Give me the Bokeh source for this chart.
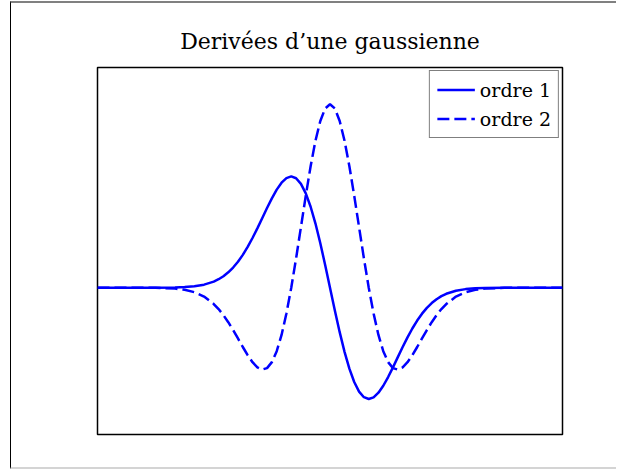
from bokeh.plotting import figure
from bokeh.models import Legend, LegendItem, ColumnDataSource
from bokeh.embed import file_html
from bokeh.resources import INLINE

# Sample positions (x) and the two derivative curves read at those positions
x = [-6.0, -5.0, -4.5, -4.0, -3.75, -3.5, -3.25, -3.0, -2.875, -2.75, -2.625, -2.5,
     -2.375, -2.25, -2.125, -2.0, -1.875, -1.75, -1.625, -1.5, -1.375, -1.25, -1.125,
     -1.0, -0.875, -0.75, -0.625, -0.5, -0.375, -0.25, -0.125, 0.0, 0.125, 0.25, 0.375,
     0.5, 0.625, 0.75, 0.875, 1.0, 1.125, 1.25, 1.375, 1.5, 1.625, 1.75, 1.875, 2.0,
     2.125, 2.25, 2.375, 2.5, 2.625, 2.75, 2.875, 3.0, 3.25, 3.5, 3.75, 4.0, 4.5, 5.0, 6.0]

ordre1 = [0.0, 0.0, 0.0002, 0.0013, 0.0033, 0.0077, 0.0165, 0.0333, 0.0461, 0.0627,
          0.0837, 0.1098, 0.1415, 0.1790, 0.2222, 0.2707, 0.3233, 0.3785, 0.4340,
          0.4870, 0.5343, 0.5723, 0.5975, 0.6065, 0.5967, 0.5661, 0.5141, 0.4412,
          0.3495, 0.2423, 0.1240, 0.0, -0.1240, -0.2423, -0.3495, -0.4412, -0.5141,
          -0.5661, -0.5967, -0.6065, -0.5975, -0.5723, -0.5343, -0.4870, -0.4340,
          -0.3785, -0.3233, -0.2707, -0.2222, -0.1790, -0.1415, -0.1098, -0.0837,
          -0.0627, -0.0461, -0.0333, -0.0165, -0.0077, -0.0033, -0.0013, -0.0002,
          0.0, 0.0]

ordre2 = [0.0, -0.0001, -0.0008, -0.0050, -0.0115, -0.0246, -0.0486, -0.0889, -0.1165,
          -0.1496, -0.1879, -0.2307, -0.2765, -0.3232, -0.3677, -0.4060, -0.4338,
          -0.4461, -0.4381, -0.4058, -0.3461, -0.2575, -0.1411, 0.0, 0.1598, 0.3302,
          0.5013, 0.6619, 0.8010, 0.9087, 0.9767, 1.0, 0.9767, 0.9087, 0.8010, 0.6619,
          0.5013, 0.3302, 0.1598, 0.0, -0.1411, -0.2575, -0.3461, -0.4058, -0.4381,
          -0.4461, -0.4338, -0.4060, -0.3677, -0.3232, -0.2765, -0.2307, -0.1879,
          -0.1496, -0.1165, -0.0889, -0.0486, -0.0246, -0.0115, -0.0050, -0.0008,
          -0.0001, 0.0]

labels = ["ordre 1", "ordre 2"]
title_text = "Derivées d\u2019une gaussienne"

SERIF = "DejaVu Serif"
BLUE = "#0000ff"

source = ColumnDataSource(data=dict(x=x, o1=ordre1, o2=ordre2))

p = figure(
    width=606, height=468,
    x_range=(-6, 6), y_range=(-0.8, 1.2),
    x_axis_type=None, y_axis_type=None,
    output_backend="svg", toolbar_location=None,
    min_border_left=86, min_border_right=55,
    min_border_top=64, min_border_bottom=37,
)
p.grid.visible = False
p.outline_line_color = "black"
p.outline_line_width = 1.5
p.background_fill_color = "white"
p.border_fill_color = "white"

p.title.text = title_text
p.title.align = "center"
p.title.text_font = SERIF
p.title.text_font_size = "22px"
p.title.text_font_style = "normal"
p.title.text_color = "black"
p.title.standoff = 28

r1 = p.line("x", "o1", source=source, line_color=BLUE, line_width=2.5)
r2 = p.line("x", "o2", source=source, line_color=BLUE, line_width=2.5,
            line_dash="12 5")

legend = Legend(
    items=[LegendItem(label=labels[0], renderers=[r1]),
           LegendItem(label=labels[1], renderers=[r2])],
    location="top_right",
    margin=3,
    padding=7,
    spacing=6,
    glyph_width=38,
    glyph_height=23,
    label_height=23,
    label_standoff=5,
    label_text_font=SERIF,
    label_text_font_size="19px",
    label_text_color="black",
    border_line_color="black",
    border_line_width=1,
    background_fill_color="white",
    background_fill_alpha=1.0,
)
p.add_layout(legend)

# page edges: thin rules along the top, left and bottom of the figure
p.styles = {
    "margin-left": "10px",
    "margin-top": "1px",
    "border-top": "2px solid #808080",
    "border-left": "1.5px solid black",
    "border-bottom": "2px solid #d4d4d4",
}

open("out.html", "w").write(file_html(p, INLINE))
